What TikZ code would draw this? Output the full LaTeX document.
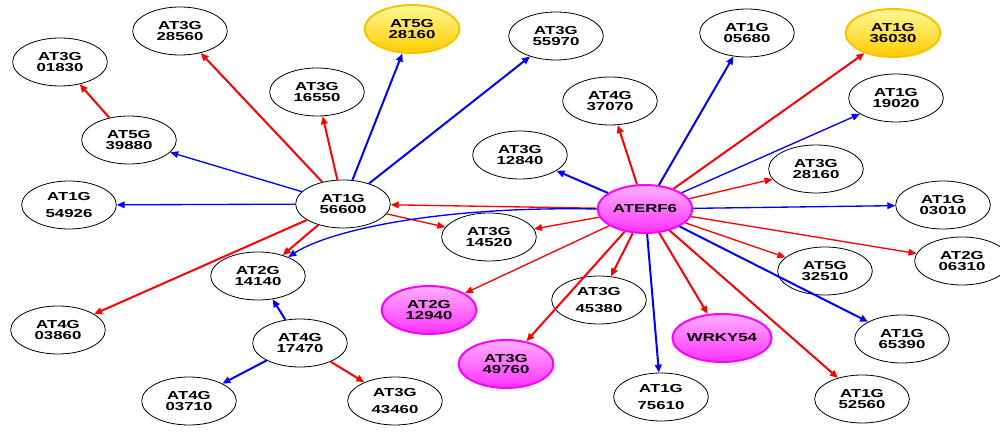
\documentclass[tikz,border=0pt]{standalone}
\usepackage{fontspec}
\newfontfamily\genefont[FakeStretch=1.45]{Liberation Sans}
\usetikzlibrary{shapes.geometric,arrows.meta}

\definecolor{hitYline}{RGB}{245,196,0}
\definecolor{hitYtop}{RGB}{255,248,150}
\definecolor{hitYbot}{RGB}{255,204,0}
\definecolor{hitMline}{RGB}{255,0,255}
\definecolor{hitMtop}{RGB}{255,175,255}
\definecolor{hitMbot}{RGB}{255,50,255}

\tikzset{
  gene/.style={ellipse, draw=black, line width=0.6pt, fill=white, minimum width=71pt, minimum height=36pt, inner sep=0pt, align=center, font=\genefont\bfseries\fontsize{8.7}{8.8}\selectfont},
  geneY/.style={gene, draw=hitYline, line width=1.5pt, top color=hitYtop, bottom color=hitYbot},
  geneM/.style={gene, draw=hitMline, line width=1.5pt, top color=hitMtop, bottom color=hitMbot},
  redarr/.style={draw=red, line width=1.5pt, -{Triangle[length=6pt,width=5pt]}},
  bluearr/.style={draw=blue, line width=1.5pt, -{Triangle[length=6pt,width=5pt]}},
  thin/.style={line width=1pt}
}

\begin{document}
\begin{tikzpicture}[x=0.75pt,y=0.75pt,yscale=-1,xscale=1]
\useasboundingbox (0,0) rectangle (1000,434);

% Genes around AT1G56600
\node [gene] (at3g01830) at (60,62) {AT3G\\01830};
\node [gene] (at3g28560) at (180,31) {AT3G\\28560};
\node [geneY] (at5g28160) at (412,29) {AT5G\\28160};
\node [gene] (at3g55970) at (556,36) {AT3G\\55970};
\node [gene] (at3g16550) at (317,92) {AT3G\\16550};
\node [gene] (at5g39880) at (129,140) {AT5G\\39880};
\node [gene] (at1g54926) at (69,205) {AT1G\\[4pt]54926};
\node [gene] (at1g56600) at (343,204) {AT1G\\56600};
\node [gene] (at2g14140) at (258,276) {AT2G\\14140};
\node [gene] (at4g03860) at (58,330) {AT4G\\03860};

% Genes around AT4G17470
\node [gene] (at4g17470) at (300,343) {AT4G\\17470};
\node [gene] (at4g03710) at (189,401) {AT4G\\03710};
\node [gene] (at3g43460) at (395,401) {AT3G\\[4pt]43460};

% Genes around ATERF6
\node [geneM] (aterf6) at (645,209) {ATERF6};
\node [gene] (at1g05680) at (747,33) {AT1G\\05680};
\node [geneY] (at1g36030) at (893,33) {AT1G\\36030};
\node [gene] (at4g37070) at (610,101) {AT4G\\37070};
\node [gene] (at1g19020) at (896,98) {AT1G\\19020};
\node [gene] (at3g12840) at (520,155) {AT3G\\12840};
\node [gene] (at3g28160) at (816,169) {AT3G\\28160};
\node [gene] (at1g03010) at (943,205) {AT1G\\03010};
\node [gene] (at3g14520) at (489,237) {AT3G\\14520};
\node [gene] (at2g06310) at (962,261) {AT2G\\06310};
\node [gene] (at5g32510) at (825,271) {AT5G\\32510};
\node [geneM] (at2g12940) at (429,310) {AT2G\\12940};
\node [gene] (at3g45380) at (599,300) {AT3G\\[4pt]45380};
\node [geneM] (wrky54) at (722,338) {WRKY54};
\node [geneM] (at3g49760) at (506,364) {AT3G\\49760};
\node [gene] (at1g65390) at (902,339) {AT1G\\65390};
\node [gene] (at1g75610) at (661,397) {AT1G\\[4pt]75610};
\node [gene] (at1g52560) at (862,399) {AT1G\\52560};

% Edges from AT1G56600
\draw [redarr] (at1g56600) -- (at3g28560);
\draw [redarr] (at1g56600) -- (at3g16550);
\draw [bluearr] (at1g56600) -- (at5g28160);
\draw [bluearr] (at1g56600) -- (at3g55970);
\draw [bluearr,thin] (at1g56600) -- (at5g39880);
\draw [bluearr,thin] (at1g56600) -- (at1g54926);
\draw [redarr] (at1g56600) -- (at2g14140);
\draw [redarr] (at1g56600) -- (at4g03860);
\draw [redarr,thin] (at1g56600) -- (at3g14520);
\draw [redarr] (at5g39880) -- (at3g01830);

% Edges from AT4G17470
\draw [bluearr] (at4g17470) -- (at2g14140);
\draw [bluearr] (at4g17470) -- (at4g03710);
\draw [redarr] (at4g17470) -- (at3g43460);

% Edges from ATERF6
\draw [redarr,thin] (aterf6) -- (at1g56600);
\draw [bluearr] (aterf6) -- (at3g12840);
\draw [redarr] (aterf6) -- (at4g37070);
\draw [bluearr] (aterf6) -- (at1g05680);
\draw [redarr] (aterf6) -- (at1g36030);
\draw [bluearr,thin] (aterf6) -- (at1g19020);
\draw [redarr,thin] (aterf6) -- (at3g28160);
\draw [bluearr,thin] (aterf6) -- (at1g03010);
\draw [redarr,thin] (aterf6) -- (at2g06310);
\draw [redarr,thin] (aterf6) -- (at5g32510);
\draw [bluearr] (aterf6) -- (at1g65390);
\draw [redarr] (aterf6) -- (at1g52560);
\draw [redarr] (aterf6) -- (wrky54);
\draw [bluearr] (aterf6) -- (at1g75610);
\draw [redarr] (aterf6) -- (at3g45380);
\draw [redarr] (aterf6) -- (at3g49760);
\draw [redarr,thin] (aterf6) -- (at2g12940);
\draw [redarr,thin] (aterf6) -- (at3g14520);
\draw [bluearr,thin] (aterf6.west) .. controls (440,206) and (330,230) .. (at2g14140.32);

\end{tikzpicture}
\end{document}
